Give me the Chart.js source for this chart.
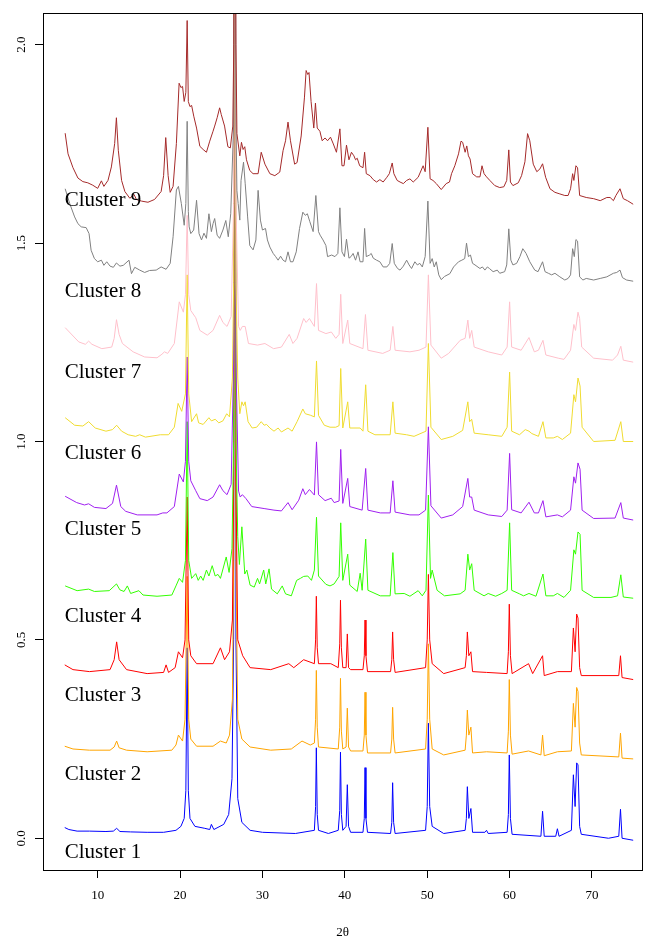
<!DOCTYPE html>
<html>
<head>
<meta charset="utf-8">
<title>XRD clusters</title>
<script src="https://cdn.jsdelivr.net/npm/chart.js@4/dist/chart.umd.min.js"></script>
<style>
  html, body { margin: 0; padding: 0; background: #fff; }
  canvas { display: block; }
</style>
</head>
<body>
<canvas id="xrdChart" width="654" height="937"></canvas>
<script>
// --- DATA (2theta, stacked intensity) ---
const xTicks = [10, 20, 30, 40, 50, 60, 70];
const yTicks = [0, 0.5, 1, 1.5, 2];
const clusterNames = ['Cluster 1', 'Cluster 2', 'Cluster 3', 'Cluster 4', 'Cluster 5',
                      'Cluster 6', 'Cluster 7', 'Cluster 8', 'Cluster 9'];
const labelY = [-0.037, 0.16, 0.361, 0.56, 0.777, 0.971, 1.173, 1.377, 1.608];

const cluster1 = [[6,0.027],[6.5,0.022],[7.5,0.018],[9,0.018],[11,0.017],[11.9,0.018],[12.3,0.025],[12.7,0.017],[14,0.016],[16,0.015],[18,0.015],[19.5,0.02],[20.1,0.03],[20.5,0.05],[20.7,0.12],[20.86,0.48],[21.0,0.12],[21.2,0.05],[21.8,0.03],[23,0.025],[23.6,0.022],[23.8,0.035],[24.1,0.022],[25.3,0.035],[25.9,0.06],[26.3,0.15],[26.5,0.5],[26.64,2.5],[26.78,0.5],[27.0,0.1],[27.5,0.04],[28.5,0.02],[30,0.015],[34,0.012],[36.3,0.02],[36.45,0.08],[36.54,0.228],[36.65,0.06],[36.8,0.02],[38,0.012],[39.2,0.02],[39.38,0.07],[39.47,0.217],[39.58,0.06],[39.75,0.02],[40.15,0.03],[40.3,0.135],[40.45,0.03],[40.7,0.015],[42.2,0.015],[42.36,0.05],[42.45,0.178],[42.56,0.05],[42.75,0.015],[45.55,0.012],[45.7,0.04],[45.8,0.14],[45.92,0.04],[46.1,0.012],[49.8,0.02],[50.0,0.08],[50.14,0.29],[50.3,0.08],[50.6,0.03],[52,0.012],[54.6,0.02],[54.75,0.05],[54.87,0.13],[55.05,0.05],[55.3,0.075],[55.5,0.015],[57.0,0.015],[57.2,0.02],[57.4,0.012],[59.7,0.015],[59.85,0.06],[59.96,0.21],[60.1,0.05],[60.3,0.01],[63.8,0.005],[64.0,0.068],[64.2,0.005],[65.6,0.005],[65.8,0.024],[66.0,0.005],[67.5,0.02],[67.74,0.16],[67.95,0.08],[68.14,0.19],[68.3,0.185],[68.5,0.03],[68.7,0.01],[72,0.0],[73.25,0.005],[73.46,0.073],[73.65,0.0],[75,-0.005]];

const cluster2 = [[6,0.232],[7,0.225],[9,0.222],[11.5,0.222],[12.0,0.23],[12.3,0.245],[12.6,0.228],[13.5,0.222],[16,0.218],[19,0.222],[19.5,0.235],[19.8,0.26],[20.3,0.245],[20.6,0.3],[20.86,0.66],[21.05,0.3],[21.3,0.25],[22,0.232],[24,0.232],[24.9,0.245],[25.6,0.24],[26.0,0.26],[26.35,0.35],[26.5,0.7],[26.64,2.5],[26.78,0.7],[27.0,0.3],[27.5,0.25],[28.5,0.23],[31,0.222],[33.5,0.225],[34.8,0.245],[35.8,0.235],[36.3,0.24],[36.45,0.3],[36.54,0.423],[36.65,0.28],[36.8,0.23],[39.2,0.225],[39.38,0.28],[39.47,0.403],[39.58,0.27],[39.75,0.225],[40.15,0.23],[40.3,0.328],[40.45,0.23],[40.7,0.22],[42.2,0.22],[42.36,0.26],[42.45,0.368],[42.56,0.26],[42.75,0.215],[45.55,0.215],[45.7,0.25],[45.8,0.33],[45.92,0.25],[46.1,0.215],[49.8,0.225],[50.0,0.3],[50.14,0.49],[50.3,0.3],[50.6,0.225],[52,0.21],[54.6,0.222],[54.75,0.26],[54.87,0.323],[55.05,0.26],[55.3,0.28],[55.5,0.215],[57.2,0.218],[59.7,0.215],[59.85,0.27],[59.96,0.4],[60.1,0.26],[60.3,0.212],[62.3,0.22],[63.8,0.21],[64,0.26],[64.2,0.208],[65.8,0.218],[67.5,0.22],[67.74,0.34],[67.95,0.28],[68.14,0.38],[68.3,0.37],[68.5,0.24],[68.7,0.21],[73.25,0.205],[73.46,0.265],[73.65,0.202],[75,0.2]];

const cluster3 = [[6,0.437],[7,0.425],[9,0.42],[11.5,0.425],[12,0.45],[12.3,0.495],[12.6,0.45],[13.5,0.425],[16,0.415],[18,0.418],[18.3,0.437],[18.6,0.418],[19.4,0.43],[19.8,0.47],[20.3,0.455],[20.6,0.5],[20.86,0.86],[21.05,0.5],[21.3,0.46],[22,0.44],[24,0.44],[24.9,0.48],[25.4,0.45],[26.0,0.47],[26.35,0.55],[26.5,0.9],[26.64,2.5],[26.78,0.9],[27.0,0.5],[27.6,0.46],[28.5,0.43],[31,0.425],[33.2,0.44],[33.8,0.43],[35,0.45],[36.3,0.44],[36.45,0.5],[36.54,0.61],[36.65,0.48],[36.8,0.44],[38.3,0.44],[39.2,0.43],[39.38,0.49],[39.47,0.6],[39.58,0.48],[39.75,0.43],[40.15,0.43],[40.3,0.515],[40.45,0.43],[40.7,0.425],[42.2,0.425],[42.36,0.46],[42.45,0.55],[42.56,0.46],[42.75,0.42],[45.55,0.42],[45.7,0.45],[45.8,0.52],[45.92,0.45],[46.1,0.418],[49.8,0.43],[50.0,0.5],[50.14,0.665],[50.3,0.5],[50.6,0.44],[52,0.415],[54.6,0.43],[54.75,0.46],[54.87,0.52],[55.05,0.46],[55.3,0.47],[55.5,0.42],[57.2,0.418],[59.7,0.415],[59.85,0.47],[59.96,0.59],[60.1,0.46],[60.3,0.415],[62.3,0.44],[62.8,0.415],[64,0.46],[64.2,0.41],[65.8,0.42],[67.5,0.42],[67.74,0.53],[67.95,0.47],[68.14,0.565],[68.3,0.555],[68.5,0.43],[68.7,0.41],[73.25,0.41],[73.46,0.46],[73.65,0.405],[75,0.4]];

const cluster4 = [[6.05,0.636],[7.5,0.624],[8.9,0.628],[9.6,0.622],[11.4,0.624],[12.28,0.641],[12.7,0.626],[13.2,0.622],[13.6,0.636],[14.0,0.617],[15.0,0.624],[15.5,0.613],[17.2,0.61],[19.0,0.613],[19.5,0.636],[19.9,0.655],[20.3,0.645],[20.65,0.7],[20.86,1.05],[21.05,0.7],[21.4,0.655],[21.9,0.667],[22.2,0.65],[22.5,0.661],[22.8,0.65],[23.2,0.676],[23.5,0.661],[23.9,0.687],[24.26,0.661],[24.6,0.665],[24.9,0.655],[25.6,0.709],[25.95,0.67],[26.3,0.73],[26.5,1.0],[26.64,3.0],[26.78,1.0],[27.0,0.76],[27.2,0.69],[27.5,0.785],[27.85,0.666],[28.1,0.676],[28.5,0.638],[29.0,0.633],[29.4,0.655],[29.65,0.641],[30.15,0.676],[30.4,0.641],[30.8,0.679],[31.1,0.628],[31.8,0.616],[32.4,0.636],[32.8,0.616],[33.5,0.611],[34.15,0.65],[34.6,0.655],[35.0,0.66],[35.5,0.661],[35.95,0.65],[36.3,0.676],[36.56,0.809],[36.8,0.661],[37.7,0.64],[38.2,0.636],[38.7,0.641],[39.3,0.66],[39.5,0.795],[39.75,0.65],[40.35,0.716],[40.6,0.638],[41.5,0.622],[41.86,0.668],[42.1,0.625],[42.53,0.754],[42.8,0.625],[44.3,0.611],[45.5,0.611],[45.83,0.72],[46.1,0.616],[47.2,0.617],[47.9,0.61],[48.9,0.624],[49.4,0.611],[49.85,0.625],[50.14,0.865],[50.4,0.655],[50.6,0.676],[51.2,0.625],[52.1,0.611],[54.0,0.616],[54.6,0.625],[54.93,0.716],[55.15,0.676],[55.4,0.692],[55.7,0.625],[56.9,0.611],[57.4,0.617],[58.3,0.61],[59.05,0.617],[59.7,0.625],[60.0,0.795],[60.25,0.625],[61.2,0.616],[61.7,0.611],[62.35,0.617],[63.2,0.61],[64.05,0.666],[64.4,0.611],[65.3,0.611],[65.8,0.617],[66.6,0.607],[67.4,0.625],[67.8,0.727],[68.0,0.716],[68.3,0.772],[68.55,0.766],[68.8,0.625],[70.2,0.607],[72.3,0.607],[73.1,0.611],[73.5,0.664],[73.8,0.608],[75.0,0.605]];

const cluster5 = [[6.05,0.862],[7.45,0.846],[8.4,0.84],[8.9,0.843],[9.6,0.834],[11.0,0.831],[11.8,0.844],[12.28,0.89],[12.8,0.836],[13.4,0.824],[14.8,0.815],[17.2,0.815],[17.9,0.82],[18.4,0.82],[19.3,0.836],[19.9,0.918],[20.4,0.898],[20.65,0.95],[20.86,1.213],[21.05,0.95],[21.3,0.901],[21.9,0.876],[22.4,0.856],[23.3,0.851],[24.0,0.86],[24.8,0.891],[25.2,0.876],[25.7,0.866],[26.2,0.892],[26.5,1.2],[26.64,3.0],[26.78,1.2],[27.1,0.875],[27.3,0.86],[27.56,0.866],[28.0,0.856],[28.7,0.836],[30.2,0.831],[31.4,0.827],[32.3,0.825],[33.1,0.846],[33.6,0.828],[34.4,0.852],[34.9,0.881],[35.2,0.866],[35.7,0.879],[36.3,0.865],[36.56,0.999],[36.8,0.866],[37.6,0.851],[38.35,0.857],[38.7,0.846],[39.3,0.85],[39.5,0.98],[39.75,0.844],[40.35,0.907],[40.6,0.836],[42.1,0.827],[42.53,0.932],[42.8,0.827],[44.3,0.82],[45.5,0.82],[45.83,0.901],[46.1,0.822],[47.9,0.815],[49.0,0.815],[49.8,0.827],[50.14,1.037],[50.45,0.838],[51.7,0.807],[53.1,0.815],[54.3,0.836],[54.93,0.907],[55.15,0.86],[55.4,0.86],[55.7,0.827],[57.4,0.815],[59.05,0.811],[59.7,0.827],[60.0,0.97],[60.25,0.828],[61.4,0.82],[62.35,0.847],[63.0,0.82],[63.5,0.82],[64.05,0.851],[64.4,0.81],[65.8,0.815],[66.4,0.81],[67.4,0.827],[67.8,0.911],[68.0,0.895],[68.3,0.946],[68.55,0.93],[68.8,0.827],[70.2,0.806],[72.8,0.807],[73.5,0.846],[73.8,0.807],[75.0,0.802]];

const cluster6 = [[6.05,1.06],[7.2,1.041],[8.2,1.039],[8.9,1.05],[9.7,1.034],[11.0,1.026],[11.8,1.03],[12.3,1.041],[12.9,1.026],[13.7,1.017],[14.6,1.013],[15.1,1.017],[15.8,1.011],[17.6,1.017],[18.6,1.017],[19.3,1.036],[19.76,1.096],[20.2,1.076],[20.65,1.12],[20.86,1.42],[21.05,1.12],[21.4,1.05],[22.0,1.07],[22.25,1.047],[22.8,1.043],[23.5,1.06],[23.8,1.052],[24.26,1.056],[24.7,1.047],[25.2,1.052],[25.66,1.07],[26.0,1.062],[26.35,1.16],[26.5,1.4],[26.64,3.0],[26.78,1.4],[27.0,1.16],[27.25,1.07],[27.5,1.10],[27.7,1.09],[27.9,1.10],[28.25,1.05],[28.75,1.034],[29.3,1.036],[29.85,1.05],[30.2,1.041],[30.5,1.043],[30.9,1.034],[31.4,1.026],[31.9,1.034],[32.3,1.024],[33.1,1.034],[33.6,1.026],[34.2,1.05],[34.9,1.082],[35.2,1.07],[35.85,1.066],[36.3,1.062],[36.56,1.203],[36.8,1.066],[37.5,1.041],[38.2,1.036],[38.9,1.036],[39.3,1.04],[39.5,1.184],[39.75,1.034],[40.35,1.10],[40.6,1.034],[41.86,1.034],[42.2,1.026],[42.53,1.143],[42.8,1.026],[43.65,1.017],[45.5,1.017],[45.83,1.10],[46.1,1.021],[47.5,1.017],[48.4,1.013],[49.85,1.026],[50.14,1.247],[50.45,1.036],[51.7,1.005],[53.1,1.013],[54.3,1.028],[54.93,1.10],[55.15,1.05],[55.4,1.056],[55.7,1.021],[57.4,1.017],[59.05,1.013],[59.7,1.036],[60.0,1.175],[60.25,1.026],[61.2,1.017],[61.9,1.03],[62.35,1.026],[62.7,1.02],[63.5,1.013],[64.05,1.05],[64.4,1.009],[65.3,1.009],[65.8,1.013],[66.4,1.005],[67.4,1.021],[67.8,1.118],[68.0,1.10],[68.3,1.16],[68.55,1.14],[68.8,1.036],[70.2,1.0],[72.8,1.003],[73.5,1.05],[73.8,1.0],[75.0,1.0]];

const cluster7 = [[6.05,1.287],[7.7,1.251],[8.5,1.245],[8.9,1.253],[9.3,1.245],[10.5,1.234],[11.7,1.238],[12.0,1.26],[12.28,1.307],[12.6,1.27],[13.0,1.247],[14.3,1.226],[15.7,1.213],[17.2,1.211],[17.8,1.22],[18.1,1.226],[18.5,1.222],[19.3,1.247],[19.9,1.352],[20.4,1.326],[20.65,1.37],[20.86,1.57],[21.05,1.37],[21.3,1.33],[21.9,1.312],[22.4,1.28],[23.3,1.268],[24.0,1.28],[24.8,1.318],[25.2,1.30],[25.7,1.29],[26.2,1.315],[26.5,1.6],[26.64,3.2],[26.78,1.6],[27.1,1.29],[27.3,1.28],[27.56,1.29],[27.9,1.29],[28.3,1.247],[29.4,1.243],[30.3,1.247],[31.35,1.234],[32.3,1.238],[33.25,1.27],[33.7,1.247],[34.2,1.26],[35.0,1.31],[35.3,1.30],[35.7,1.31],[36.3,1.29],[36.56,1.398],[36.8,1.28],[37.7,1.272],[38.36,1.276],[38.9,1.26],[39.3,1.27],[39.5,1.371],[39.75,1.247],[40.35,1.306],[40.6,1.247],[42.2,1.234],[42.5,1.32],[42.8,1.23],[44.6,1.222],[45.5,1.23],[45.83,1.29],[46.1,1.23],[47.9,1.226],[49.0,1.23],[49.85,1.238],[50.14,1.42],[50.45,1.243],[51.7,1.21],[52.6,1.222],[54.0,1.255],[54.6,1.26],[54.93,1.306],[55.15,1.26],[55.4,1.28],[55.7,1.238],[57.4,1.226],[59.05,1.218],[59.7,1.238],[60.0,1.352],[60.25,1.238],[61.4,1.23],[62.35,1.262],[63.0,1.226],[63.5,1.23],[64.05,1.255],[64.4,1.218],[65.9,1.21],[66.6,1.207],[67.4,1.23],[67.8,1.295],[68.0,1.28],[68.3,1.326],[68.5,1.31],[68.75,1.238],[70.2,1.21],[72.5,1.205],[73.1,1.218],[73.5,1.24],[73.8,1.205],[75.0,1.20]];

const cluster8 = [[6.05,1.637],[6.6,1.6],[7.2,1.566],[7.6,1.549],[8.0,1.541],[8.6,1.539],[8.95,1.524],[9.2,1.482],[9.6,1.461],[10.0,1.453],[10.45,1.457],[10.75,1.444],[11.1,1.453],[11.5,1.442],[11.9,1.439],[12.27,1.45],[12.7,1.442],[13.1,1.444],[13.8,1.457],[14.1,1.423],[14.5,1.439],[15.1,1.432],[15.7,1.426],[16.3,1.431],[17.1,1.432],[17.7,1.44],[18.3,1.434],[18.8,1.449],[19.15,1.516],[19.55,1.634],[19.8,1.643],[20.15,1.6],[20.5,1.545],[20.7,1.6],[20.86,1.807],[21.0,1.58],[21.1,1.541],[21.3,1.524],[21.65,1.533],[22.0,1.608],[22.3,1.524],[22.6,1.508],[22.9,1.525],[23.2,1.512],[23.5,1.574],[23.8,1.529],[24.0,1.549],[24.2,1.562],[24.5,1.52],[24.8,1.512],[25.2,1.533],[25.55,1.557],[25.85,1.516],[26.15,1.574],[26.5,1.8],[26.64,3.0],[26.78,1.8],[26.9,1.632],[27.05,1.6],[27.25,1.558],[27.4,1.658],[27.7,1.704],[27.9,1.651],[28.2,1.566],[28.46,1.494],[28.86,1.483],[29.2,1.508],[29.47,1.633],[29.75,1.558],[30.0,1.533],[30.37,1.537],[30.6,1.508],[30.9,1.49],[31.3,1.474],[31.6,1.466],[31.9,1.457],[32.2,1.467],[32.5,1.457],[32.8,1.453],[33.1,1.478],[33.4,1.453],[33.7,1.453],[34.1,1.478],[34.5,1.537],[34.9,1.578],[35.2,1.57],[35.45,1.574],[35.75,1.554],[36.15,1.529],[36.48,1.62],[36.8,1.529],[37.0,1.52],[37.35,1.508],[37.7,1.494],[37.9,1.466],[38.4,1.47],[38.8,1.466],[39.15,1.474],[39.4,1.589],[39.65,1.478],[39.95,1.466],[40.2,1.51],[40.5,1.462],[40.75,1.466],[41.0,1.474],[41.3,1.457],[41.6,1.478],[41.85,1.453],[42.2,1.453],[42.4,1.537],[42.6,1.466],[43.0,1.47],[43.2,1.474],[43.45,1.462],[43.85,1.457],[44.25,1.453],[44.65,1.44],[45.1,1.44],[45.45,1.449],[45.75,1.499],[46.0,1.449],[46.4,1.436],[46.7,1.432],[47.1,1.442],[47.5,1.457],[47.8,1.445],[48.1,1.436],[48.5,1.453],[48.8,1.445],[49.1,1.449],[49.4,1.44],[49.75,1.466],[50.08,1.606],[50.35,1.449],[50.6,1.461],[50.85,1.44],[51.1,1.453],[51.4,1.42],[51.7,1.408],[52.1,1.416],[52.75,1.423],[53.2,1.44],[53.8,1.453],[54.2,1.457],[54.55,1.461],[54.77,1.5],[55.0,1.466],[55.25,1.47],[55.5,1.449],[55.8,1.445],[56.4,1.436],[56.7,1.44],[57.0,1.432],[57.3,1.44],[57.55,1.436],[58.0,1.428],[58.5,1.432],[58.8,1.424],[59.4,1.428],[59.65,1.445],[59.9,1.536],[60.15,1.457],[60.4,1.445],[60.85,1.449],[61.25,1.466],[61.6,1.486],[62.0,1.474],[62.45,1.453],[63.05,1.432],[63.45,1.428],[64.0,1.453],[64.3,1.428],[64.7,1.424],[65.1,1.42],[65.5,1.424],[66.1,1.415],[66.7,1.407],[67.1,1.411],[67.4,1.42],[67.65,1.486],[67.85,1.466],[68.05,1.509],[68.25,1.505],[68.5,1.415],[68.9,1.407],[69.3,1.411],[70.2,1.407],[71.0,1.411],[71.8,1.415],[72.6,1.424],[73.0,1.426],[73.4,1.432],[73.7,1.413],[74.2,1.407],[75.0,1.404]];

const cluster9 = [[6.05,1.777],[6.4,1.725],[7.0,1.69],[7.6,1.664],[8.2,1.655],[8.8,1.652],[9.4,1.646],[10.0,1.638],[10.45,1.657],[10.75,1.643],[11.25,1.658],[11.66,1.692],[12.06,1.751],[12.27,1.816],[12.5,1.734],[12.9,1.658],[13.3,1.63],[13.9,1.613],[14.4,1.623],[14.7,1.61],[15.3,1.606],[16.1,1.603],[16.9,1.61],[17.7,1.63],[18.0,1.67],[18.26,1.766],[18.55,1.67],[18.8,1.628],[19.15,1.643],[19.55,1.751],[19.88,1.903],[20.1,1.892],[20.3,1.895],[20.5,1.857],[20.7,1.88],[20.86,2.061],[21.0,1.857],[21.2,1.844],[21.4,1.847],[21.66,1.82],[22.0,1.79],[22.4,1.744],[22.8,1.736],[23.2,1.729],[23.6,1.757],[24.0,1.782],[24.2,1.795],[24.5,1.816],[24.8,1.841],[25.0,1.824],[25.4,1.795],[25.8,1.743],[26.1,1.74],[26.4,1.795],[26.52,2.0],[26.64,3.0],[26.78,2.0],[26.9,1.776],[27.25,1.72],[27.45,1.754],[27.65,1.736],[27.85,1.743],[28.06,1.71],[28.46,1.683],[28.86,1.675],[29.47,1.675],[29.85,1.729],[30.3,1.699],[30.9,1.675],[31.5,1.67],[32.1,1.679],[32.5,1.733],[32.8,1.758],[33.1,1.805],[33.4,1.758],[33.9,1.699],[34.2,1.703],[34.7,1.77],[35.1,1.868],[35.3,1.935],[35.5,1.925],[35.65,1.93],[35.9,1.857],[36.23,1.79],[36.43,1.853],[36.65,1.79],[36.97,1.782],[37.25,1.758],[37.6,1.765],[37.9,1.758],[38.26,1.767],[38.6,1.75],[38.98,1.729],[39.4,1.788],[39.65,1.695],[39.9,1.695],[40.2,1.747],[40.5,1.71],[40.8,1.729],[41.1,1.72],[41.3,1.71],[41.5,1.714],[41.8,1.695],[42.2,1.69],[42.4,1.729],[42.6,1.675],[43.05,1.67],[43.45,1.66],[43.85,1.654],[44.25,1.66],[44.65,1.654],[45.1,1.666],[45.4,1.675],[45.75,1.702],[45.95,1.675],[46.35,1.658],[46.7,1.654],[47.1,1.65],[47.5,1.658],[47.9,1.662],[48.3,1.654],[48.9,1.666],[49.5,1.695],[49.75,1.68],[50.08,1.792],[50.35,1.662],[50.7,1.658],[51.1,1.65],[51.7,1.635],[52.3,1.65],[52.7,1.654],[52.95,1.675],[53.35,1.695],[53.8,1.725],[54.1,1.757],[54.3,1.754],[54.6,1.729],[54.8,1.745],[55.0,1.72],[55.2,1.712],[55.5,1.675],[56.0,1.667],[56.4,1.667],[56.65,1.695],[56.9,1.675],[57.2,1.667],[57.6,1.658],[58.2,1.645],[58.8,1.64],[59.3,1.642],[59.65,1.658],[59.9,1.735],[60.1,1.654],[60.4,1.645],[61.05,1.652],[61.45,1.67],[61.86,1.705],[62.18,1.776],[62.45,1.758],[62.87,1.699],[63.3,1.68],[63.68,1.687],[64.0,1.7],[64.37,1.666],[64.9,1.637],[65.5,1.628],[66.1,1.624],[66.7,1.62],[67.1,1.62],[67.4,1.637],[67.65,1.675],[67.8,1.658],[68.05,1.695],[68.25,1.69],[68.5,1.62],[69.3,1.615],[70.2,1.612],[71.0,1.607],[71.8,1.615],[72.2,1.615],[72.6,1.607],[72.9,1.62],[73.4,1.637],[73.8,1.612],[74.3,1.607],[75.0,1.598]];

const clusterSeries = [cluster1, cluster2, cluster3, cluster4, cluster5, cluster6, cluster7, cluster8, cluster9];
const clusterColors = ['#0000FF', '#FFA500', '#FF0000', '#33FF00', '#A020F0', '#F0DC30', '#FFC0CB', '#808080', '#A52A2A'];

// --- FRAME + CLUSTER LABELS ---
const framePlugin = {
    id: 'frame',
    afterDraw(chart) {
        const { ctx, chartArea: a, scales: { x, y } } = chart;
        ctx.save();
        ctx.strokeStyle = '#000';
        ctx.lineWidth = 1;
        ctx.strokeRect(a.left + 0.5, a.top + 0.5, a.right - a.left, a.bottom - a.top);
        ctx.fillStyle = '#000';
        ctx.font = '21px "Liberation Serif"';
        ctx.textAlign = 'left';
        ctx.textBaseline = 'middle';
        clusterNames.forEach((name, i) => {
            ctx.fillText(name, x.getPixelForValue(6), y.getPixelForValue(labelY[i]));
        });
        ctx.restore();
    }
};

Chart.defaults.font.family = '"Liberation Serif", "Times New Roman", serif';
Chart.defaults.font.size = 13;
Chart.defaults.color = '#000';

// Initialize Chart
const ctx = document.getElementById('xrdChart').getContext('2d');
const xrdChart = new Chart(ctx, {
    type: 'line',
    data: {
        datasets: clusterSeries.map((pts, i) => ({
            label: clusterNames[i],
            data: pts.map(([x, y]) => ({ x, y })),
            borderColor: clusterColors[i],
            borderWidth: 1,
            pointRadius: 0,
            tension: 0,
            fill: false,
            order: clusterSeries.length - i
        }))
    },
    options: {
        responsive: false,
        animation: false,
        layout: { padding: { top: 13, right: 12, left: 0, bottom: 0 } },
        plugins: { legend: { display: false }, tooltip: { enabled: false } },
        scales: {
            x: {
                type: 'linear',
                min: 3.36,
                max: 76.07,
                afterFit: s => { s.height = 67; },
                afterBuildTicks: s => { s.ticks = xTicks.map(v => ({ value: v })); },
                grid: { drawOnChartArea: false, tickLength: 8, color: '#000' },
                border: { display: true, color: '#000' },
                ticks: { padding: 10, maxRotation: 0, callback: v => String(v) },
                title: { display: true, text: '2θ', padding: { top: 0, bottom: -3 } }
            },
            y: {
                type: 'linear',
                min: -0.08,
                max: 2.08,
                afterFit: s => { s.width = 43; },
                afterBuildTicks: s => { s.ticks = yTicks.map(v => ({ value: v })); },
                grid: { drawOnChartArea: false, tickLength: 8, color: '#000' },
                border: { display: true, color: '#000' },
                ticks: { minRotation: 90, maxRotation: 90, crossAlign: 'center', padding: 5,
                         callback: v => v.toFixed(1) }
            }
        }
    },
    plugins: [framePlugin]
});
</script>
</body>
</html>
